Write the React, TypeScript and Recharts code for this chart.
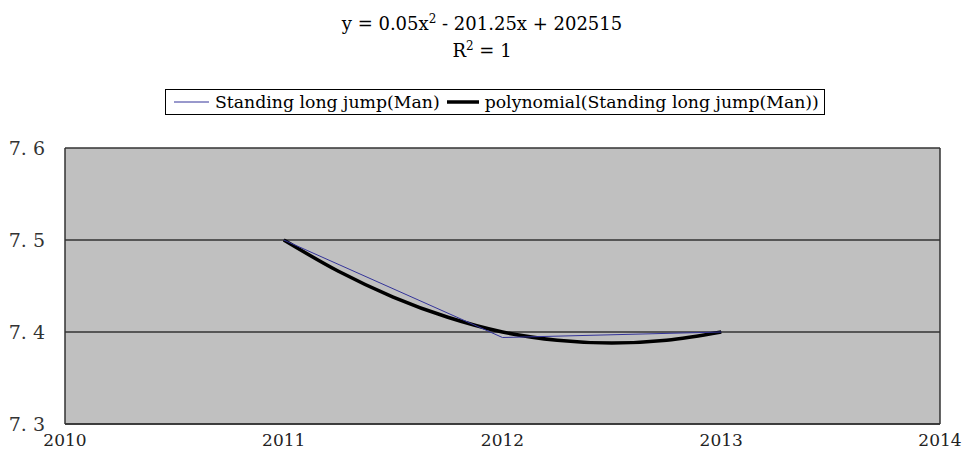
import React from "react";
import {
  LineChart,
  Line,
  XAxis,
  YAxis,
  CartesianGrid,
  ReferenceLine,
  Legend,
} from "recharts";

// values
const years = [2011, 2012, 2013];
const jumpValues = [7.5, 7.394, 7.4];

const trendYears = [2011, 2011.25, 2011.5, 2011.75, 2012, 2012.25, 2012.5, 2012.75, 2013];
const trendValues = [7.5, 7.466, 7.438, 7.416, 7.4, 7.391, 7.388, 7.391, 7.4];

const xTicks = [2010, 2011, 2012, 2013, 2014];
const yTicks = [7.3, 7.4, 7.5, 7.6];

const jumpData = years.map((year, i) => ({ year, value: jumpValues[i] }));
const trendData = trendYears.map((year, i) => ({ year, value: trendValues[i] }));

const serif = "DejaVu Serif";

const XTick = (props: any) => {
  const { x, y, payload } = props;
  return (
    <text x={x} y={y} dy={18} textAnchor="middle" fill="#222" fontSize={17} fontFamily={serif}>
      {payload.value}
    </text>
  );
};

const YTick = (props: any) => {
  const { x, y, payload } = props;
  return (
    <text x={x} y={y} dy={7} textAnchor="end" fill="#333" fontSize={19} fontFamily={serif}>
      {Number(payload.value).toFixed(1).replace(".", ". ")}
    </text>
  );
};

const renderLegend = (props: any) => {
  const items = props.payload || [];
  return (
    <div
      style={{
        border: "1px solid #000",
        height: 26,
        boxSizing: "border-box",
        display: "flex",
        alignItems: "center",
        paddingLeft: 8,
        fontFamily: serif,
        fontSize: 17.3,
        color: "#000",
        background: "#fff",
        whiteSpace: "nowrap",
      }}
    >
      {items.map((item: any, i: number) => {
        const w = item.payload?.strokeWidth > 2 ? 32 : 35;
        return (
          <span key={i} style={{ display: "flex", alignItems: "center", marginRight: 7 }}>
            <svg width={w} height={10} style={{ marginRight: 6 }}>
              <line
                x1={0}
                y1={5}
                x2={w}
                y2={5}
                stroke={item.color}
                strokeWidth={item.payload?.strokeWidth ?? 1}
              />
            </svg>
            {item.value}
          </span>
        );
      })}
    </div>
  );
};

export default function App() {
  return (
    <div style={{ position: "absolute", left: 0, top: 0, width: 964, height: 467, background: "#fff" }}>
      <div
        style={{
          position: "absolute",
          left: 0,
          width: 964,
          top: 10,
          textAlign: "center",
          fontFamily: serif,
          fontSize: 18,
          lineHeight: "27px",
          color: "#000",
        }}
      >
        <div>
          y = 0.05x<sup style={{ fontSize: 12, lineHeight: 0 }}>2</sup> - 201.25x + 202515
        </div>
        <div>
          R<sup style={{ fontSize: 12, lineHeight: 0 }}>2</sup> = 1
        </div>
      </div>
      <LineChart
        width={964}
        height={467}
        margin={{ top: 148, right: 24, bottom: 13, left: 0 }}
      >
        <CartesianGrid
          vertical={false}
          fill="#c0c0c0"
          fillOpacity={1}
          stroke="#333"
          strokeWidth={1.5}
        />
        <XAxis
          dataKey="year"
          type="number"
          domain={[2010, 2014]}
          ticks={xTicks}
          allowDataOverflow
          height={30}
          tickLine={false}
          tickSize={0}
          tickMargin={4}
          axisLine={{ stroke: "#333", strokeWidth: 1.5 }}
          tick={<XTick />}
        />
        <YAxis
          type="number"
          domain={[7.3, 7.6]}
          ticks={yTicks}
          width={65}
          tickLine={false}
          tickSize={0}
          tickMargin={20}
          axisLine={{ stroke: "#333", strokeWidth: 1.5 }}
          tick={<YTick />}
        />
        <ReferenceLine x={2014} stroke="#333" strokeWidth={1.5} />
        <Legend
          layout="horizontal"
          verticalAlign="middle"
          align="center"
          wrapperStyle={{ top: 89, left: 165, width: 660 }}
          content={renderLegend}
        />
        <Line
          data={trendData}
          dataKey="value"
          name="polynomial(Standing long jump(Man))"
          type="monotone"
          stroke="#000"
          strokeWidth={3.5}
          dot={false}
          activeDot={false}
          isAnimationActive={false}
        />
        <Line
          data={jumpData}
          dataKey="value"
          name="Standing long jump(Man)"
          type="linear"
          stroke="#333399"
          strokeWidth={1}
          dot={false}
          activeDot={false}
          isAnimationActive={false}
        />
      </LineChart>
    </div>
  );
}
